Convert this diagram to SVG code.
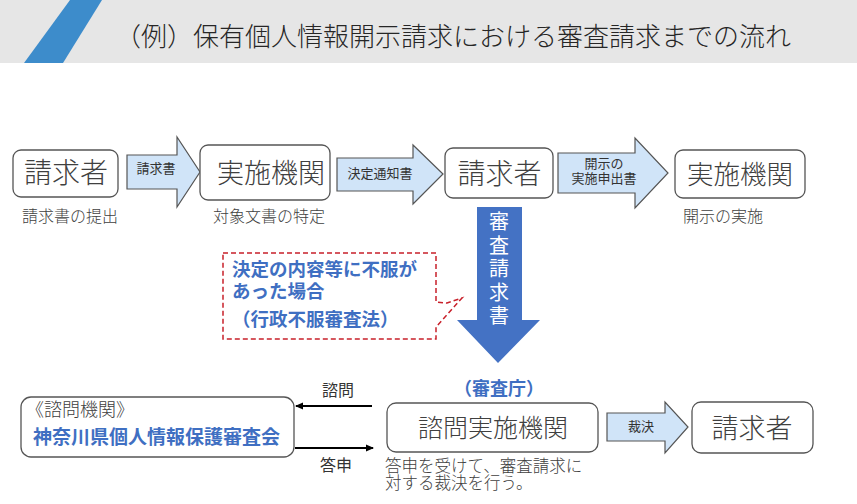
<svg xmlns="http://www.w3.org/2000/svg" width="857" height="504" viewBox="0 0 857 504">
<style>
text{font-family:"Noto Sans CJK JP","Noto Sans",sans-serif;}
.box{fill:#fff;stroke:#555;stroke-width:1.3;}
.big{fill:#404040;text-anchor:middle;font-weight:300;}
.sub{fill:#404040;font-size:16px;font-weight:300;}
.blk{fill:#d0e4f8;stroke:#555;stroke-width:1.2;}
.lbl{fill:#333;font-size:13px;text-anchor:middle;}
.blue{fill:#3f6fc2;font-weight:bold;}
.ln{stroke:#000;stroke-width:2;fill:none;}
</style>
<defs>
<marker id="ah" markerWidth="8" markerHeight="8" refX="7" refY="4" orient="auto" markerUnits="userSpaceOnUse">
<path d="M0,0.5 L8,4 L0,7.5 Z" fill="#000"/>
</marker>
</defs>
<rect x="0" y="0" width="857" height="63" fill="#e6e6e6"/>
<polygon points="70,0 102,0 63,63 24,63" fill="#3d8ccb"/>
<text x="115" y="46" font-size="26" font-weight="300" fill="#262626">（例）保有個人情報開示請求における審査請求までの流れ</text>

<g id="connectors">
<path class="blk" d="M127,155 H177 V137 L200,172 L177,207 V189 H127 Z"/>
<text class="lbl" x="156" y="173">請求書</text>
<path class="blk" d="M337,158 H413 V145 L443,174 L413,204 V191 H337 Z"/>
<text class="lbl" x="380" y="178">決定通知書</text>
<path class="blk" d="M558,153 H635 V138 L668,173 L635,208 V193 H558 Z"/>
<text class="lbl" x="604" y="168" font-size="12.5">開示の</text>
<text class="lbl" x="604" y="182.5" font-size="12.5">実施申出書</text>
<path d="M477,207 H522 V320 H540 L498,363 L457,320 H477 Z" fill="#4472c4"/>
<g fill="#fff" font-size="20" text-anchor="middle">
<text x="499" y="229">審</text>
<text x="499" y="252.5">査</text>
<text x="499" y="276">請</text>
<text x="499" y="299.5">求</text>
<text x="499" y="323">書</text>
</g>
<path class="blk" d="M607,413 H665 V402 L688,427 L665,453 V441 H607 Z"/>
<text class="lbl" x="641" y="431">裁決</text>
<line class="ln" x1="372" y1="406" x2="296" y2="406" marker-end="url(#ah)"/>
<text x="338" y="395.5" font-size="16" fill="#333" text-anchor="middle">諮問</text>
<line class="ln" x1="295" y1="448" x2="373" y2="448" marker-end="url(#ah)"/>
<text x="336" y="471" font-size="16" fill="#333" text-anchor="middle">答申</text>
</g>

<g id="n1">
<rect class="box" x="13" y="150" width="105" height="47" rx="8"/>
<text class="big" x="66" y="183" font-size="28">請求者</text>
<text class="sub" x="22" y="221.5">請求書の提出</text>
</g>
<g id="n2">
<rect class="box" x="200" y="145" width="130" height="55" rx="8"/>
<text class="big" x="271" y="183" font-size="27">実施機関</text>
<text class="sub" x="213" y="221.5">対象文書の特定</text>
</g>
<g id="n3">
<rect class="box" x="445" y="148" width="108" height="50" rx="8"/>
<text class="big" x="499.5" y="183.5" font-size="28">請求者</text>
</g>
<g id="n4">
<rect class="box" x="675" y="150" width="130" height="48" rx="8"/>
<text class="big" x="740" y="184" font-size="26.5">実施機関</text>
<text class="sub" x="683" y="221.5">開示の実施</text>
</g>
<g id="callout">
<path d="M223,253 H436 V302 L447,303 L462,298 L436,327 V339 H223 Z" fill="#fff" stroke="#c8202a" stroke-width="1.5" stroke-dasharray="5 3"/>
<text class="blue" x="232" y="276" font-size="18.5">決定の内容等に不服が</text>
<text class="blue" x="232" y="298" font-size="18.5">あった場合</text>
<text class="blue" x="232" y="326" font-size="18.5">（行政不服審査法）</text>
</g>
<g id="n5">
<rect class="box" x="21" y="397" width="273" height="60" rx="10"/>
<text x="26" y="416" font-size="18" font-weight="300" fill="#404040">《諮問機関》</text>
<text class="blue" x="33" y="443.5" font-size="19">神奈川県個人情報保護審査会</text>
</g>
<g id="n6">
<text class="blue" x="499" y="395" font-size="18" text-anchor="middle">（審査庁）</text>
<rect class="box" x="387" y="403" width="211" height="49" rx="9"/>
<text class="big" x="493" y="437" font-size="25">諮問実施機関</text>
<text class="sub" x="385" y="472" font-size="16.5" style="font-size:16.5px">答申を受けて、審査請求に</text>
<text class="sub" x="385" y="489" style="font-size:16.5px">対する裁決を行う。</text>
</g>
<g id="n7">
<rect class="box" x="692" y="402" width="121" height="51" rx="9"/>
<text class="big" x="752" y="438" font-size="27">請求者</text>
</g>
</svg>
